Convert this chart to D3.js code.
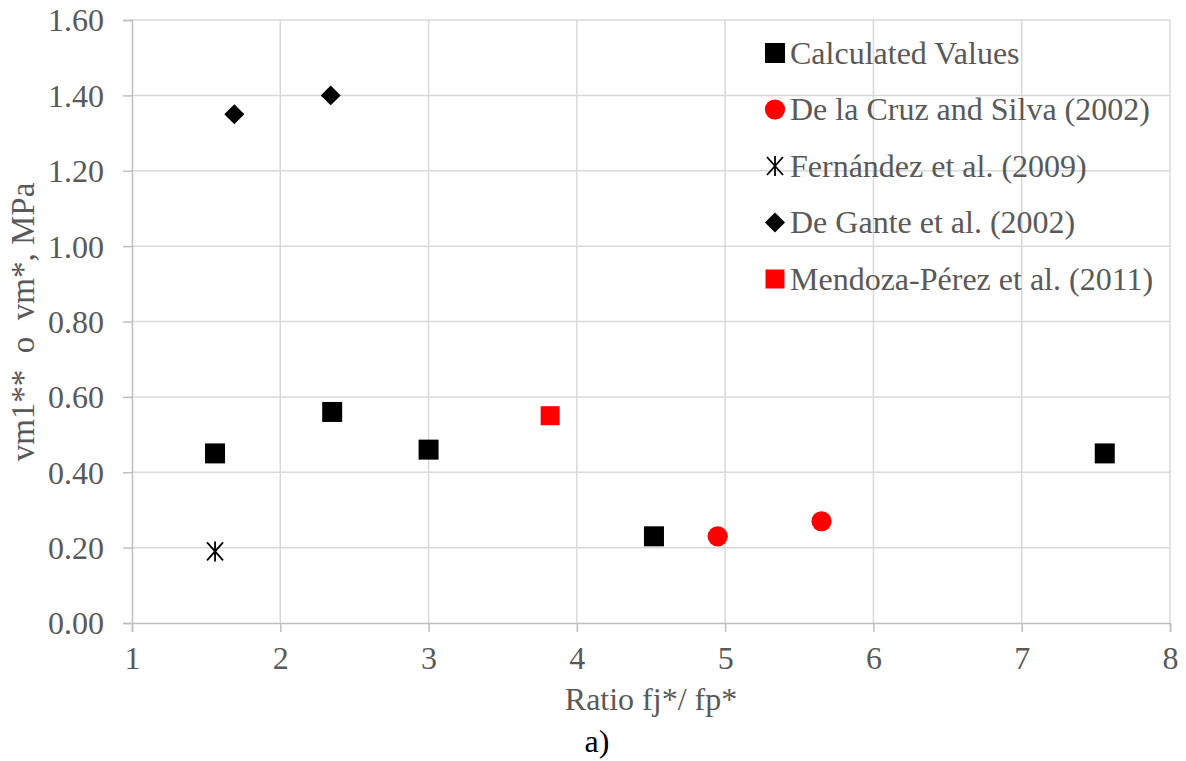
<!DOCTYPE html>
<html>
<head>
<meta charset="utf-8">
<script src="https://cdn.jsdelivr.net/npm/d3@7"></script>
<style>
	body { margin: 0; background: white; }
	text { font-family: "Liberation Serif", "Times New Roman", serif; }
</style>
</head>
<body>
<script>
// series
var calcX = [1.56, 2.35, 3.00, 4.52, 7.56]
var calcY = [0.45, 0.56, 0.46, 0.23, 0.45]
var cruzX = [4.95, 5.65]
var cruzY = [0.23, 0.27]
var fernX = [1.56]
var fernY = [0.19]
var ganteX = [1.69, 2.34]
var ganteY = [1.35, 1.40]
var mendX = [3.82]
var mendY = [0.55]

var seriesNames = [
	'Calculated Values',
	'De la Cruz and Silva (2002)',
	'Fernández et al. (2009)',
	'De Gante et al. (2002)',
	'Mendoza-Pérez et al. (2011)'
]
var xTicks = [1, 2, 3, 4, 5, 6, 7, 8]
var yTicks = [0, 0.2, 0.4, 0.6, 0.8, 1.0, 1.2, 1.4, 1.6]

var width = 1186,
	height = 761
var margin = {top: 20, right: 16, bottom: 138, left: 132}
var fontSize = '32px'

var svg = d3.select('body').append('svg')
	.attr('width', width)
	.attr('height', height)

var x = d3.scaleLinear()
	.domain([1, 8])
	.range([margin.left, width - margin.right])

var y = d3.scaleLinear()
	.domain([0, 1.6])
	.range([height - margin.bottom, margin.top])

// gridlines
svg.append('g')
	.selectAll('line')
	.data(yTicks.slice(1))
	.enter()
	.append('line')
		.attr('x1', x(1))
		.attr('x2', x(8))
		.attr('y1', d => y(d))
		.attr('y2', d => y(d))
		.attr('stroke', '#d9d9d9')
		.attr('stroke-width', 1.5)

svg.append('g')
	.selectAll('line')
	.data(xTicks.slice(1))
	.enter()
	.append('line')
		.attr('x1', d => x(d))
		.attr('x2', d => x(d))
		.attr('y1', y(0))
		.attr('y2', y(1.6))
		.attr('stroke', '#d9d9d9')
		.attr('stroke-width', 1.5)

// axes
var xAxis = svg.append('g')
	.attr('transform', 'translate(0,' + y(0) + ')')
	.call(d3.axisBottom(x).tickValues(xTicks).tickFormat(d3.format('d')).tickSize(9).tickPadding(14))

var yAxis = svg.append('g')
	.attr('transform', 'translate(' + x(1) + ',0)')
	.call(d3.axisLeft(y).tickValues(yTicks).tickFormat(d3.format('.2f')).tickSize(9).tickPadding(19))

;[xAxis, yAxis].forEach(function (a) {
	a.select('.domain').attr('stroke', '#bfbfbf').attr('stroke-width', 1.5)
	a.selectAll('.tick line').attr('stroke', '#bfbfbf').attr('stroke-width', 1.5)
	a.selectAll('.tick text')
		.attr('fill', '#595959')
		.style('font-size', fontSize)
		.style('font-family', '"Liberation Serif", serif')
})
yAxis.selectAll('.tick text').attr('dy', '0.34em')

// marker drawing
var sym = {
	square: d3.symbol().type(d3.symbolSquare).size(400),
	redSquare: d3.symbol().type(d3.symbolSquare).size(361),
	circle: d3.symbol().type(d3.symbolCircle).size(320),
	diamond: d3.symbol().type(d3.symbolSquare).size(200)
}

function drawSeries(xs, ys, fn) {
	var pts = xs.map((v, i) => [v, ys[i]])
	var g = svg.append('g')
	pts.forEach(function (p) {
		fn(g.append('g').attr('transform', 'translate(' + x(p[0]) + ',' + y(p[1]) + ')'))
	})
}

var markers = [
	g => g.append('path').attr('d', sym.square()).attr('fill', 'black'),
	g => g.append('path').attr('d', sym.circle()).attr('fill', '#ff0000'),
	function (g) {
		g.append('path')
			.attr('d', 'M-8,-9L8,9M-8,9L8,-9M0,-10L0,10')
			.attr('stroke', 'black')
			.attr('stroke-width', 1.8)
			.attr('fill', 'none')
	},
	g => g.append('path').attr('d', sym.diamond()).attr('fill', 'black').attr('transform', 'rotate(45)'),
	g => g.append('path').attr('d', sym.redSquare()).attr('fill', '#ff0000')
]

drawSeries(calcX, calcY, markers[0])
drawSeries(cruzX, cruzY, markers[1])
drawSeries(fernX, fernY, markers[2])
drawSeries(ganteX, ganteY, markers[3])
drawSeries(mendX, mendY, markers[4])

// LEGEND
var legend = svg.append('g')
seriesNames.forEach(function (name, i) {
	var cy = 53 + i * 56.5
	markers[i](legend.append('g').attr('transform', 'translate(775,' + cy + ')'))
	legend.append('text')
		.attr('x', 790)
		.attr('y', cy)
		.attr('dy', '0.34em')
		.attr('fill', '#595959')
		.style('font-size', fontSize)
		.text(name)
})

// axis titles
svg.append('text')
	.attr('x', 651)
	.attr('y', 710)
	.attr('text-anchor', 'middle')
	.attr('fill', '#595959')
	.style('font-size', fontSize)
	.text('Ratio fj*/ fp*')

svg.append('text')
	.attr('transform', 'translate(34,322) rotate(-90)')
	.attr('text-anchor', 'middle')
	.attr('fill', '#595959')
	.style('font-size', '33px')
	.style('white-space', 'pre')
	.text('vm1**  o  vm*, MPa')

svg.append('text')
	.attr('x', 597)
	.attr('y', 752)
	.attr('text-anchor', 'middle')
	.attr('fill', 'black')
	.style('font-size', fontSize)
	.text('a)')
</script>
</body>
</html>
